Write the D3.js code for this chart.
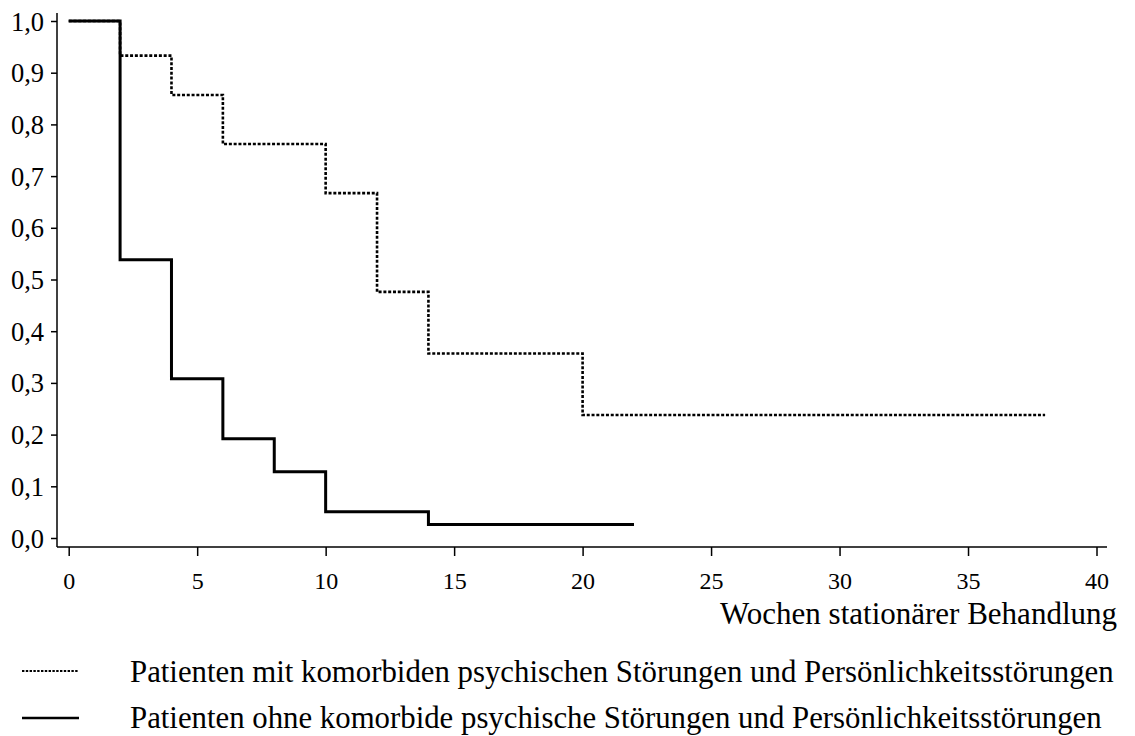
<!DOCTYPE html>
<html>
<head>
<meta charset="utf-8">
<script src="https://cdn.jsdelivr.net/npm/d3@7"></script>
<style>
  html, body { margin: 0; padding: 0; background: #fff; }
  svg { display: block; }
  text { font-family: "Liberation Serif", "Times New Roman", serif; fill: #000; }
</style>
</head>
<body>
<svg id="chart" width="1135" height="736"></svg>
<script>
// Kaplan-Meier style step curves: share of patients still in inpatient treatment
const weeksWith    = [0, 2, 4, 6, 10, 12, 14, 20, 38];
const survivalWith = [1.0, 0.933, 0.857, 0.762, 0.667, 0.476, 0.357, 0.238, 0.238];

const weeksWithout    = [0, 2, 4, 6, 8, 10, 14, 22];
const survivalWithout = [1.0, 0.538, 0.308, 0.192, 0.128, 0.051, 0.026, 0.026];

const xTicks = [0, 5, 10, 15, 20, 25, 30, 35, 40];
const yTicks = [0, 0.1, 0.2, 0.3, 0.4, 0.5, 0.6, 0.7, 0.8, 0.9, 1.0];

const xTitle = "Wochen stationärer Behandlung";
const legendLabels = [
  "Patienten mit komorbiden psychischen Störungen und Persönlichkeitsstörungen",
  "Patienten ohne komorbide psychische Störungen und Persönlichkeitsstörungen"
];

const svg = d3.select("#chart");

const x = d3.scaleLinear().domain([0, 40]).range([68.7, 1096.5]);
const y = d3.scaleLinear().domain([0, 1]).range([538, 21]);

const axisX = 57;   // position of the vertical axis line
const axisY = 547;  // position of the horizontal axis line
const fmt = d3.format(".1f");

// Y axis
const gy = svg.append("g")
  .attr("transform", `translate(${axisX},0)`)
  .call(d3.axisLeft(y).tickValues(yTicks).tickSize(6).tickPadding(7)
    .tickFormat(d => fmt(d).replace(".", ",")));
gy.select(".domain").remove();
gy.selectAll(".tick line").attr("stroke", "#000").attr("stroke-width", 1.5);
gy.selectAll(".tick text").style("font-size", "26.5px").attr("dy", "0.34em");

// X axis
const gx = svg.append("g")
  .attr("transform", `translate(0,${axisY})`)
  .call(d3.axisBottom(x).tickValues(xTicks).tickSize(9).tickPadding(16)
    .tickFormat(d3.format("d")));
gx.select(".domain").remove();
gx.selectAll(".tick line").attr("stroke", "#000").attr("stroke-width", 1.5);
gx.selectAll(".tick text").style("font-size", "24px");

// Axis lines, extended past the first/last ticks
svg.append("line")
  .attr("x1", axisX).attr("x2", axisX).attr("y1", 13).attr("y2", axisY)
  .attr("stroke", "#000").attr("stroke-width", 1.5);
svg.append("line")
  .attr("x1", axisX).attr("x2", 1107).attr("y1", axisY).attr("y2", axisY)
  .attr("stroke", "#000").attr("stroke-width", 1.5);

// Axis title
svg.append("text")
  .attr("x", 1117).attr("y", 624)
  .attr("text-anchor", "end")
  .style("font-size", "31px")
  .text(xTitle);

// Step curves
const step = d3.line()
  .x(d => x(d[0]))
  .y(d => y(d[1]))
  .curve(d3.curveStepAfter);

svg.append("path")
  .datum(d3.zip(weeksWith, survivalWith))
  .attr("d", step)
  .attr("fill", "none")
  .attr("stroke", "#000")
  .attr("stroke-width", 2.6)
  .attr("stroke-dasharray", "3,1.8");

svg.append("path")
  .datum(d3.zip(weeksWithout, survivalWithout))
  .attr("d", step)
  .attr("fill", "none")
  .attr("stroke", "#000")
  .attr("stroke-width", 3);

// Legend
const legendRows = [
  { label: legendLabels[0], lineY: 671, textY: 682, dash: "2.4,1.4", width: 2 },
  { label: legendLabels[1], lineY: 718, textY: 728, dash: null, width: 2.6 }
];
const lg = svg.append("g");
legendRows.forEach(r => {
  lg.append("line")
    .attr("x1", 22).attr("x2", 79).attr("y1", r.lineY).attr("y2", r.lineY)
    .attr("stroke", "#000").attr("stroke-width", r.width)
    .attr("stroke-dasharray", r.dash);
  lg.append("text")
    .attr("x", 130).attr("y", r.textY)
    .style("font-size", "30.8px")
    .text(r.label);
});
</script>
</body>
</html>
